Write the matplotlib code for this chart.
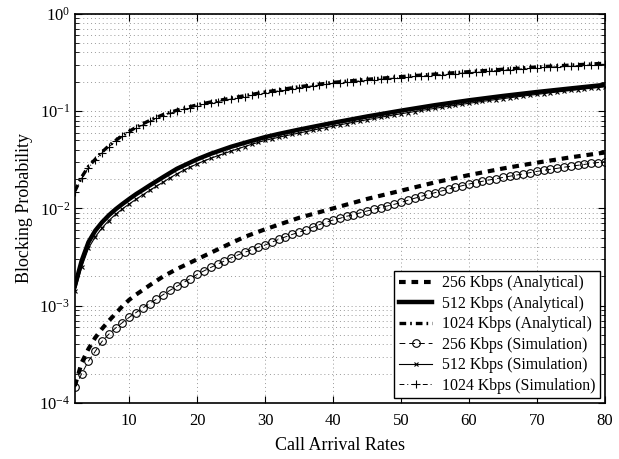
import numpy as np
import matplotlib
matplotlib.use("Agg")
import matplotlib.pyplot as plt
from matplotlib.ticker import LogLocator, LogFormatterMathtext, MultipleLocator

plt.rcParams['font.family'] = ['Liberation Serif', 'DejaVu Serif']
plt.rcParams['mathtext.fontset'] = 'stix'

# analytical curves
x_ana = [2, 3, 4, 5, 6, 7, 8, 9, 10, 11, 12, 13, 14, 15, 17, 20, 22, 25, 27, 30, 32,
         35, 40, 45, 50, 55, 60, 65, 70, 75, 80]
ana_256 = [1.5e-4, 2.6e-4, 3.6e-4, 4.7e-4, 5.8e-4, 7.0e-4, 8.3e-4, 9.9e-4, 1.15e-3,
           1.3e-3, 1.45e-3, 1.62e-3, 1.8e-3, 2.0e-3, 2.38e-3, 3.0e-3, 3.5e-3, 4.4e-3,
           5.1e-3, 6.1e-3, 6.8e-3, 8.0e-3, 1.0e-2, 1.25e-2, 1.52e-2, 1.85e-2, 2.2e-2,
           2.57e-2, 2.95e-2, 3.35e-2, 3.75e-2]
ana_512 = [1.6e-3, 2.9e-3, 4.5e-3, 5.9e-3, 7.2e-3, 8.5e-3, 9.8e-3, 1.11e-2, 1.25e-2,
           1.40e-2, 1.55e-2, 1.72e-2, 1.9e-2, 2.1e-2, 2.55e-2, 3.2e-2, 3.64e-2, 4.3e-2,
           4.72e-2, 5.4e-2, 5.82e-2, 6.45e-2, 7.57e-2, 8.8e-2, 0.101, 0.115, 0.129, 0.143,
           0.157, 0.171, 0.186]
ana_1024 = [0.0151, 0.021, 0.027, 0.032, 0.038, 0.044, 0.050, 0.056, 0.062, 0.068,
            0.074, 0.080, 0.086, 0.092, 0.102, 0.116, 0.124, 0.136, 0.144, 0.157, 0.165,
            0.178, 0.197, 0.212, 0.226, 0.240, 0.254, 0.269, 0.284, 0.297, 0.310]

# simulation points, one per unit of arrival rate
x_sim = list(range(2, 81))
sim_256 = [1.45e-4, 2.0e-4, 2.7e-4, 3.4e-4, 4.3e-4, 5.1e-4, 5.9e-4, 6.7e-4, 7.6e-4,
           8.5e-4, 9.5e-4, 1.05e-3, 1.17e-3, 1.3e-3, 1.44e-3, 1.58e-3, 1.73e-3, 1.9e-3,
           2.1e-3, 2.28e-3, 2.47e-3, 2.67e-3, 2.88e-3, 3.1e-3, 3.32e-3, 3.54e-3, 3.76e-3,
           3.98e-3, 4.2e-3, 4.5e-3, 4.8e-3, 5.1e-3, 5.4e-3, 5.7e-3, 6.0e-3, 6.4e-3, 6.8e-3,
           7.2e-3, 7.6e-3, 7.9e-3, 8.3e-3, 8.6e-3, 9.0e-3, 9.4e-3, 9.8e-3, 1.02e-2, 1.06e-2,
           1.10e-2, 1.15e-2, 1.21e-2, 1.27e-2, 1.33e-2, 1.39e-2, 1.45e-2, 1.51e-2, 1.58e-2,
           1.64e-2, 1.71e-2, 1.78e-2, 1.84e-2, 1.90e-2, 1.96e-2, 2.02e-2, 2.08e-2, 2.14e-2,
           2.20e-2, 2.26e-2, 2.33e-2, 2.40e-2, 2.46e-2, 2.52e-2, 2.58e-2, 2.65e-2, 2.71e-2,
           2.77e-2, 2.83e-2, 2.90e-2, 2.96e-2, 3.03e-2]
sim_512 = [1.4e-3, 2.5e-3, 3.9e-3, 5.1e-3, 6.3e-3, 7.5e-3, 8.7e-3, 9.9e-3, 1.11e-2,
           1.24e-2, 1.38e-2, 1.53e-2, 1.69e-2, 1.86e-2, 2.06e-2, 2.26e-2, 2.46e-2, 2.66e-2,
           2.87e-2, 3.07e-2, 3.27e-2, 3.47e-2, 3.67e-2, 3.88e-2, 4.10e-2, 4.32e-2, 4.55e-2,
           4.77e-2, 5.00e-2, 5.19e-2, 5.38e-2, 5.57e-2, 5.76e-2, 5.95e-2, 6.15e-2, 6.36e-2,
           6.57e-2, 6.78e-2, 7.00e-2, 7.22e-2, 7.45e-2, 7.68e-2, 7.91e-2, 8.15e-2, 8.39e-2,
           8.63e-2, 8.88e-2, 9.13e-2, 9.38e-2, 9.63e-2, 9.89e-2, 0.1015, 0.1041, 0.1067,
           0.1094, 0.1121, 0.1148, 0.1175, 0.1202, 0.1230, 0.1258, 0.1286, 0.1314, 0.1342,
           0.1370, 0.1398, 0.1426, 0.1455, 0.1484, 0.1513, 0.1542, 0.1571, 0.1600, 0.1629,
           0.1658, 0.1687, 0.1716, 0.1745, 0.1780]
sim_1024 = [0.0146, 0.0204, 0.0263, 0.0313, 0.0372, 0.0430, 0.0489, 0.0548, 0.0606,
            0.0665, 0.0723, 0.0782, 0.0841, 0.0899, 0.0948, 0.0997, 0.1046, 0.1085, 0.1134,
            0.1173, 0.1212, 0.1251, 0.1290, 0.1329, 0.1368, 0.1407, 0.1446, 0.1495, 0.1534,
            0.1573, 0.1612, 0.1661, 0.1700, 0.1739, 0.1778, 0.1817, 0.1857, 0.1886, 0.1925,
            0.1954, 0.1984, 0.2013, 0.2042, 0.2072, 0.2101, 0.2130, 0.2160, 0.2179, 0.2208,
            0.2238, 0.2267, 0.2287, 0.2316, 0.2345, 0.2375, 0.2404, 0.2424, 0.2453, 0.2482,
            0.2512, 0.2541, 0.2570, 0.2600, 0.2629, 0.2658, 0.2688, 0.2717, 0.2746, 0.2776,
            0.2805, 0.2825, 0.2854, 0.2873, 0.2903, 0.2932, 0.2952, 0.2981, 0.3000, 0.3030]

labels = ['256 Kbps (Analytical)', '512 Kbps (Analytical)', '1024 Kbps (Analytical)',
          '256 Kbps (Simulation)', '512 Kbps (Simulation)', '1024 Kbps (Simulation)']

fig = plt.figure(figsize=(6.19, 4.59), dpi=100)
ax = fig.add_axes([0.121, 0.122, 0.856, 0.848])

ax.plot(x_ana, ana_256, color='black', lw=3.0, ls=(0, (1.6, 1.4)), label=labels[0])
ax.plot(x_ana, ana_512, color='black', lw=3.2, ls='-', label=labels[1])
ax.plot(x_ana, ana_1024, color='black', lw=2.4, ls=(0, (2.0, 1.2, 0.5, 1.2)), label=labels[2])
ax.plot(x_sim, sim_256, color='black', lw=0.7, ls=(0, (6, 4)), marker='o', ms=5.5,
        mfc='none', mew=0.8, label=labels[3])
ax.plot(x_sim, sim_512, color='black', lw=0.8, ls='-', marker='x', ms=3.5,
        mew=0.8, label=labels[4])
ax.plot(x_sim, sim_1024, color='black', lw=0.7, ls=(0, (5, 3, 1, 3)), marker='+', ms=6,
        mew=0.8, label=labels[5])

ax.set_yscale('log')
ax.set_xlim(2, 80)
ax.set_ylim(1e-4, 1)
ax.xaxis.set_major_locator(MultipleLocator(10))
ax.yaxis.set_major_locator(LogLocator(base=10))
ax.yaxis.set_minor_locator(LogLocator(base=10, subs=np.arange(2, 10)))
ax.yaxis.set_major_formatter(LogFormatterMathtext())

ax.grid(True, which='major', ls=(0, (1, 3)), color='#999999', lw=0.7)
ax.grid(True, which='minor', axis='y', ls=(0, (1, 3)), color='#999999', lw=0.7)
ax.tick_params(which='both', direction='in', top=True, right=True, labelsize=12)
ax.tick_params(which='major', length=5)
ax.tick_params(which='minor', length=3)
ax.tick_params(axis='x', pad=7)
for s in ax.spines.values():
    s.set_linewidth(1.2)

ax.set_xlabel('Call Arrival Rates', fontsize=13, labelpad=6)
ax.set_ylabel('Blocking Probability', fontsize=13)

leg = ax.legend(loc='lower right', fontsize=11.4, handlelength=2.1, handletextpad=0.6,
                fancybox=False, edgecolor='black', framealpha=1, borderaxespad=0.3,
                labelspacing=0.28, borderpad=0.3)
leg.get_frame().set_linewidth(1.0)

fig.savefig('out.png', dpi=100)
